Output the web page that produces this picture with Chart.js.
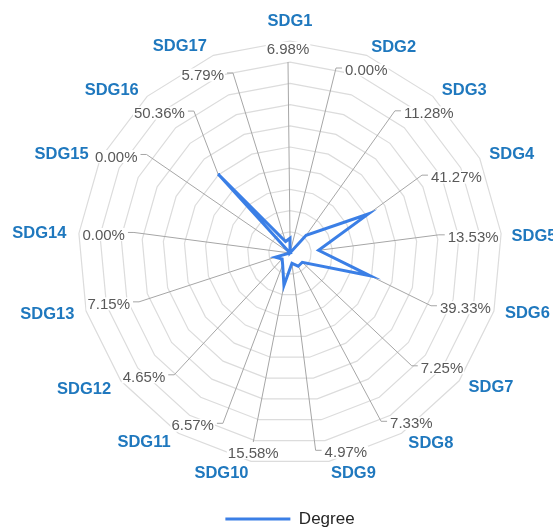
<!DOCTYPE html>
<html><head><meta charset="utf-8">
<script src="https://cdn.jsdelivr.net/npm/chart.js@4/dist/chart.umd.min.js"></script>
<style>html,body{margin:0;padding:0;background:#fff;}</style>
</head><body>
<canvas id="c" width="553" height="529"></canvas>
<script>
// ---- data ----
const categories = ['SDG1','SDG2','SDG3','SDG4','SDG5','SDG6','SDG7','SDG8','SDG9','SDG10','SDG11','SDG12','SDG13','SDG14','SDG15','SDG16','SDG17'];
const degreeValues = [6.98, 0.00, 11.28, 41.27, 13.53, 39.33, 7.25, 7.33, 4.97, 15.58, 6.57, 4.65, 7.15, 0.00, 0.00, 50.36, 5.79];
const seriesName = 'Degree';
const scaleMin = 0;
const scaleMax = 100;
const scaleStep = 10;

// ---- styles / label layout (text placement tweaks, not data) ----
const FONT = "'Liberation Sans', Arial, sans-serif";
const LINE_COLOR = '#3b7fe6';
const CAT_COLOR = '#1f78be';
const PCT_COLOR = '#595959';
const LEADER_COLOR = '#a6a6a6';
const PCT_FONT_SIZE = 15;
const CAT_FONT_SIZE = 16.5;
const pctLabelShift = [[-2,0],[5,1],[11,0],[0,7],[-2,1],[-3,4],[0,0],[19,5],[19,2],[0,3],[5,7],[6,9],[1,-1],[3,-1],[-4,-12],[-3,0],[-16,6]];
const catLabelShift = [[0,0],[17,17],[9,18],[0,11],[-2,5],[-1,-8],[4,-15],[13,-17],[20,-13],[-25,-14],[-17,-20],[-6,-16],[0,-9],[0,3],[-3,13],[-11,20],[-23,18]];

function labelGeometry(scale, i, ctx, text, font, h, offset, outward, shift) {
  const R = scale.drawingArea;
  const p = scale.getPointPosition(i, R);
  const sx = (p.x - scale.xCenter) / R;
  const sy = (p.y - scale.yCenter) / R;
  ctx.font = font;
  const w = ctx.measureText(text).width;
  const ext = Math.abs(sx) * w / 2 + Math.abs(sy) * h / 2;
  const d = outward ? R + offset + ext : R - offset - ext;
  const c = scale.getPointPosition(i, d);
  return {x: c.x + shift[0], y: c.y + shift[1], w, h};
}

function pctText(i) { return degreeValues[i].toFixed(2) + '%'; }

const sdgLabelPlugin = {
  id: 'sdgLabels',
  beforeDatasetsDraw(chart) {
    const scale = chart.scales.r;
    const ctx = chart.ctx;
    const meta = chart.getDatasetMeta(0);
    ctx.save();
    ctx.strokeStyle = LEADER_COLOR;
    ctx.lineWidth = 1;
    meta.data.forEach((pt, i) => {
      const g = labelGeometry(scale, i, ctx, pctText(i), PCT_FONT_SIZE + 'px ' + FONT, PCT_FONT_SIZE, 0, false, pctLabelShift[i]);
      const left = g.x - g.w / 2, right = g.x + g.w / 2;
      ctx.beginPath();
      ctx.moveTo(pt.x, pt.y);
      if (pt.x >= left - 10 && pt.x <= right + 10) {
        const ty = pt.y < g.y ? g.y - g.h / 2 - 3 : g.y + g.h / 2 + 6;
        ctx.lineTo(g.x, ty);
      } else if (g.x > pt.x) {
        ctx.lineTo(left - 9, g.y - 2);
        ctx.lineTo(left - 3, g.y - 2);
      } else {
        ctx.lineTo(right + 9, g.y - 2);
        ctx.lineTo(right + 3, g.y - 2);
      }
      ctx.stroke();
    });
    ctx.restore();
  },
  afterDatasetsDraw(chart) {
    const scale = chart.scales.r;
    const ctx = chart.ctx;
    ctx.save();
    ctx.textAlign = 'center';
    ctx.textBaseline = 'middle';
    categories.forEach((cat, i) => {
      const txt = pctText(i);
      const pf = PCT_FONT_SIZE + 'px ' + FONT;
      const g = labelGeometry(scale, i, ctx, txt, pf, PCT_FONT_SIZE, 0, false, pctLabelShift[i]);
      ctx.fillStyle = '#ffffff';
      ctx.fillRect(g.x - g.w / 2 - 1, g.y - g.h / 2 + 1, g.w + 2, g.h - 2);
      ctx.fillStyle = PCT_COLOR;
      ctx.font = pf;
      ctx.fillText(txt, g.x, g.y + 1);
      const cf = 'bold ' + CAT_FONT_SIZE + 'px ' + FONT;
      const c = labelGeometry(scale, i, ctx, cat, cf, CAT_FONT_SIZE, 12, true, catLabelShift[i]);
      ctx.fillStyle = CAT_COLOR;
      ctx.font = cf;
      ctx.fillText(cat, c.x, c.y + 1);
    });
    ctx.restore();
  }
};

new Chart(document.getElementById('c'), {
  type: 'radar',
  data: {
    labels: categories,
    datasets: [{
      label: seriesName,
      data: degreeValues,
      borderColor: LINE_COLOR,
      backgroundColor: LINE_COLOR,
      borderWidth: 3,
      fill: false,
      pointRadius: 0,
      pointHoverRadius: 0,
      tension: 0
    }]
  },
  options: {
    responsive: false,
    animation: false,
    layout: {padding: {left: 78, right: 51, top: 41, bottom: -8.5}},
    plugins: {
      legend: {
        position: 'bottom',
        labels: {
          usePointStyle: true,
          pointStyle: 'line',
          pointStyleWidth: 65,
          padding: 45.5,
          color: '#262626',
          font: {family: FONT, size: 17}
        }
      },
      tooltip: {enabled: false}
    },
    scales: {
      r: {
        min: scaleMin,
        max: scaleMax,
        ticks: {display: false, stepSize: scaleStep},
        grid: {color: '#dcdcdc', lineWidth: 1.2, circular: false},
        angleLines: {display: false},
        pointLabels: {display: false}
      }
    }
  },
  plugins: [sdgLabelPlugin]
});
</script>
</body></html>
